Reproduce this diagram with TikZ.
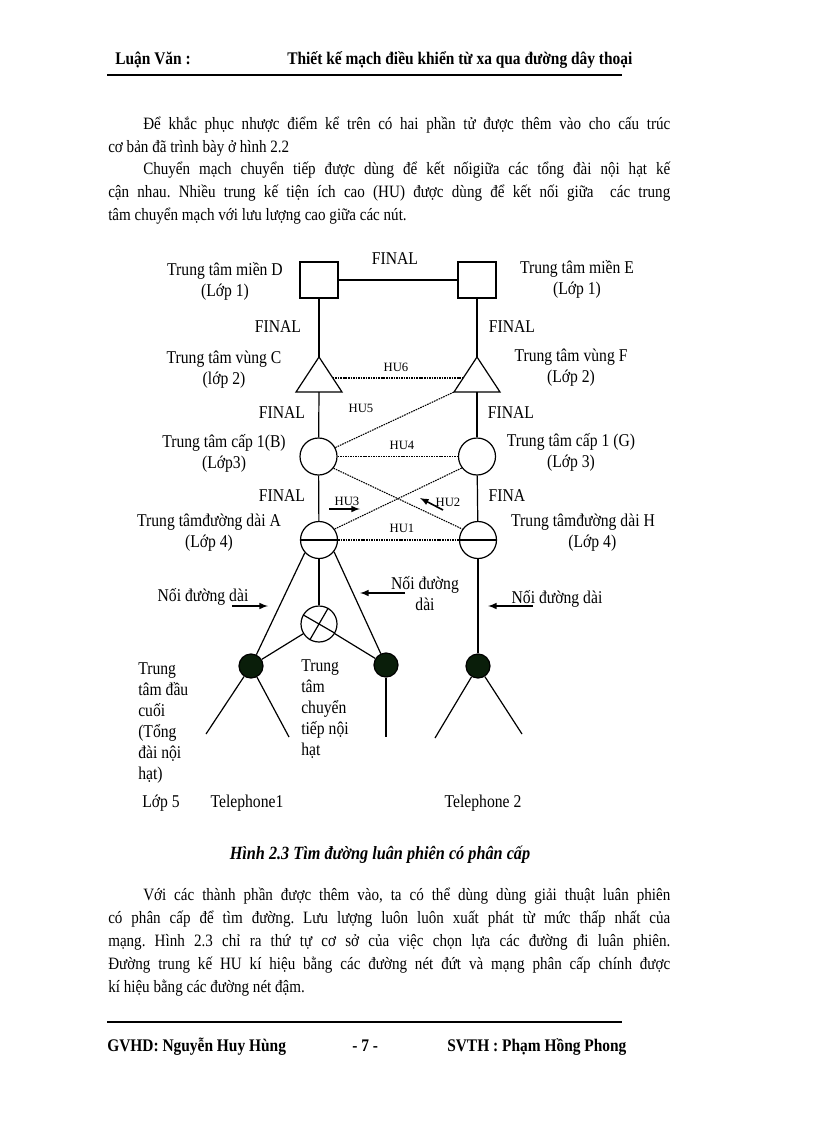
\documentclass[tikz,border=0pt]{standalone}
\usepackage{fontspec}
\setmainfont{Liberation Serif}[FakeStretch=0.87]
\newfontfamily\hufont{Liberation Serif}
\usetikzlibrary{calc}
\frenchspacing

\definecolor{dotfill}{RGB}{10,30,10}

\tikzset{
  lbl/.style={align=center, inner sep=0pt, font=\fontsize{13.5}{15.75}\selectfont,
    execute at begin node=\strut, execute at end node=\strut},
  hu/.style={inner sep=0pt, font=\hufont\fontsize{9.5}{11}\selectfont},
  body/.style={anchor=base west, inner sep=0pt, font=\fontsize{13}{16}\selectfont},
  head/.style={anchor=base west, inner sep=0pt, font=\bfseries\fontsize{13.3}{16}\selectfont},
  wire/.style={line width=0.9pt},
  trunk/.style={line width=0.8pt, dash pattern=on 1.2pt off 0.7pt},
  sq/.style={draw, line width=0.9pt, minimum width=28.5pt, minimum height=27pt, inner sep=0pt},
  ring/.style={draw, circle, line width=0.9pt, minimum size=27.75pt, inner sep=0pt},
  dot/.style={draw, circle, fill=dotfill, line width=0.9pt, minimum size=18pt, inner sep=0pt},
  pointer/.style={line width=1.2pt, -latex},
}

\begin{document}
\begin{tikzpicture}[x=0.75pt,y=-0.75pt]
  \fill[white] (0,0) rectangle (816,1123);

  % header and footer
  \node[head] (hdl) at (115,65) {Luận Văn :};
  \node[head] (hdr) at (287,65) {Thiết kế mạch điều khiển từ xa qua đường dây thoại};
  \draw[line width=0.8pt] (107,75) -- (622,75);
  \draw[line width=0.8pt] (107,1022) -- (622,1022);
  \node[head] (ftl) at (107,1051) {GVHD: Nguyễn Huy Hùng};
  \node[head] (ftc) at (352,1051) {- 7 -};
  \node[head] (ftr) at (447,1051) {SVTH : Phạm Hồng Phong};

  % text above the figure
  \node[body] (p1a) at (143,130) {\makebox[395.25pt][s]{Để khắc phục nhược điểm kể trên có hai phần tử được thêm vào cho cấu trúc}};
  \node[body] (p1b) at (108,152.5) {cơ bản đã trình bày ở hình 2.2};
  \node[body] (p2a) at (143,175) {\makebox[395.25pt][s]{Chuyển mạch chuyển tiếp được dùng để kết nốigiữa các tổng đài nội hạt kế}};
  \node[body] (p2b) at (108,197.5) {\makebox[421.5pt][s]{cận nhau. Nhiều trung kế tiện ích cao (HU) được dùng để kết nối giữa \ các trung}};
  \node[body] (p2c) at (108,220) {tâm chuyển mạch với lưu lượng cao giữa các nút.};

  % switching centres
  \node[sq] (D) at (319,280) {};
  \node[sq] (E) at (477,280) {};
  \coordinate (C) at (319,357);
  \coordinate (F) at (477,357);
  \draw[wire] (C) -- ++(23,35) coordinate (Cbr) -- ++(-46,0) coordinate (Cbl) -- cycle;
  \draw[wire] (F) -- ++(23,35) coordinate (Fbr) -- ++(-46,0) coordinate (Fbl) -- cycle;
  \coordinate (Cb) at (319,392);
  \coordinate (Fb) at (477,392);
  \node[ring] (B) at (318.5,456.5) {};
  \node[ring] (G) at (477,456.5) {};
  \node[ring] (A) at (319,540) {};
  \node[ring] (H) at (478,540) {};
  \draw[wire] (A.west) -- (A.east);
  \draw[line width=1.5pt] (H.west) -- (H.east);
  \node[ring, minimum size=27pt] (X) at (319,624) {};
  \draw[wire] (X.150) -- (X.-30) (X.60) -- (X.240);
  \node[dot] (L) at (251,666) {};
  \node[dot] (R) at (386,665) {};
  \node[dot] (T) at (478,666) {};
  \coordinate (L1) at (206,734);
  \coordinate (L2) at (289,737);
  \coordinate (R1) at (386,737);
  \coordinate (T1) at (435,738);
  \coordinate (T2) at (522,734);

  % final routes
  \draw[wire] (D) -- (E);
  \draw[wire] (D) -- (C);
  \draw[wire] (E) -- (F);
  \draw[wire] (Cb) -- (B);
  \draw[wire] (Fb) -- (G);
  \draw[wire] (B) -- (A);
  \draw[wire] (G) -- (H);
  \draw[wire] (A.222) -- (L);
  \draw[wire] (A) -- (X);
  \draw[wire] (A.322) -- (R);
  \draw[wire] (X) -- (L);
  \draw[wire] (X) -- (R);
  \draw[wire] (L) -- (L1);
  \draw[wire] (L) -- (L2);
  \draw[wire] (R) -- (R1);
  \draw[wire] (H) -- (T);
  \draw[wire] (T) -- (T1);
  \draw[wire] (T) -- (T2);

  % high usage trunks
  \draw[trunk] ($(C)!0.6!(Cbr)$) -- ($(F)!0.6!(Fbl)$);
  \draw[trunk] (B.28) -- (Fbl);
  \draw[trunk] (B) -- (G);
  \draw[trunk] (B.-38) -- (H.145);
  \draw[trunk] (A.35) -- (G.217);
  \draw[trunk] (A) -- (H);

  \node[hu] (hu6) at (396,367) {HU6};
  \node[hu] (hu5) at (361,408) {HU5};
  \node[hu] (hu4) at (402,445) {HU4};
  \node[hu] (hu3) at (347,501) {HU3};
  \node[hu] (hu2) at (448,502) {HU2};
  \node[hu] (hu1) at (402,528) {HU1};
  \coordinate (hu3a) at (329,509);
  \coordinate (hu3b) at (360,509);
  \coordinate (hu2a) at (443,510);
  \coordinate (hu2b) at (420,498);
  \draw[pointer] (hu3a) -- (hu3b);
  \draw[pointer] (hu2a) -- (hu2b);

  % labels
  \node[lbl] (fin0) at (395,260) {FINAL};
  \node[lbl] (fin1) at (278,328) {FINAL};
  \node[lbl] (fin2) at (512,328) {FINAL};
  \node[lbl] (fin3) at (282,414) {FINAL};
  \node[lbl] (fin4) at (511,414) {FINAL};
  \node[lbl] (fin5) at (282,497) {FINAL};
  \node[lbl] (fin6) at (507,497) {FINA};
  \node[lbl] (labD) at (225,282.5) {Trung tâm miền D\\(Lớp 1)};
  \node[lbl] (labE) at (577,280.5) {Trung tâm miền E\\(Lớp 1)};
  \node[lbl] (labC) at (224,370.5) {Trung tâm vùng C\\(lớp 2)};
  \node[lbl] (labF) at (571,369) {Trung tâm vùng F\\(Lớp 2)};
  \node[lbl] (labB) at (224,454.5) {Trung tâm cấp 1(B)\\(Lớp3)};
  \node[lbl] (labG) at (571,453.5) {Trung tâm cấp 1 (G)\\(Lớp 3)};
  \node[lbl] (labA) at (209,534) {Trung tâmđường dài A\\(Lớp 4)};
  \node[lbl] (labH) at (583,534) {Trung tâmđường dài H\\\hspace*{14pt}(Lớp 4)};

  \node[lbl] (toll1) at (203,597) {Nối đường dài};
  \node[lbl] (toll2) at (425,597) {Nối đường\\dài};
  \node[lbl] (toll3) at (557,599) {Nối đường dài};
  \coordinate (t1a) at (232,606);
  \coordinate (t1b) at (268,606);
  \coordinate (t2a) at (405,593);
  \coordinate (t2b) at (360,593);
  \coordinate (t3a) at (533,606);
  \coordinate (t3b) at (488,606);
  \draw[pointer] (t1a) -- (t1b);
  \draw[pointer] (t2a) -- (t2b);
  \draw[pointer] (t3a) -- (t3b);

  \node[lbl, align=left, anchor=west] (labLocal) at (138,724.5) {Trung\\tâm đầu\\cuối\\(Tổng\\đài nội\\hạt)};
  \node[lbl, align=left, anchor=west] (labTandem) at (301,711) {Trung\\tâm\\chuyển\\tiếp nội\\hạt};
  \node[lbl] (cls5) at (161,803) {Lớp 5};
  \node[lbl] (tel1) at (247,803) {Telephone1};
  \node[lbl] (tel2) at (483,803) {Telephone 2};

  % caption and text below
  \node[anchor=base, inner sep=0pt, font=\bfseries\itshape\fontsize{14}{16}\selectfont] (cap) at (380,859) {Hình 2.3 Tìm đường luân phiên có phân cấp};
  \node[body] (p3a) at (143,900) {\makebox[395.25pt][s]{Với các thành phần được thêm vào, ta có thể dùng dùng giải thuật luân phiên}};
  \node[body] (p3b) at (108,923) {\makebox[421.5pt][s]{có phân cấp để tìm đường. Lưu lượng luôn luôn xuất phát từ mức thấp nhất của}};
  \node[body] (p3c) at (108,946) {\makebox[421.5pt][s]{mạng. Hình 2.3 chỉ ra thứ tự cơ sở của việc chọn lựa các đường đi luân phiên.}};
  \node[body] (p3d) at (108,969) {\makebox[421.5pt][s]{Đường trung kế HU kí hiệu bằng các đường nét đứt và mạng phân cấp chính được}};
  \node[body] (p3e) at (108,992) {kí hiệu bằng các đường nét đậm.};
\end{tikzpicture}
\end{document}
